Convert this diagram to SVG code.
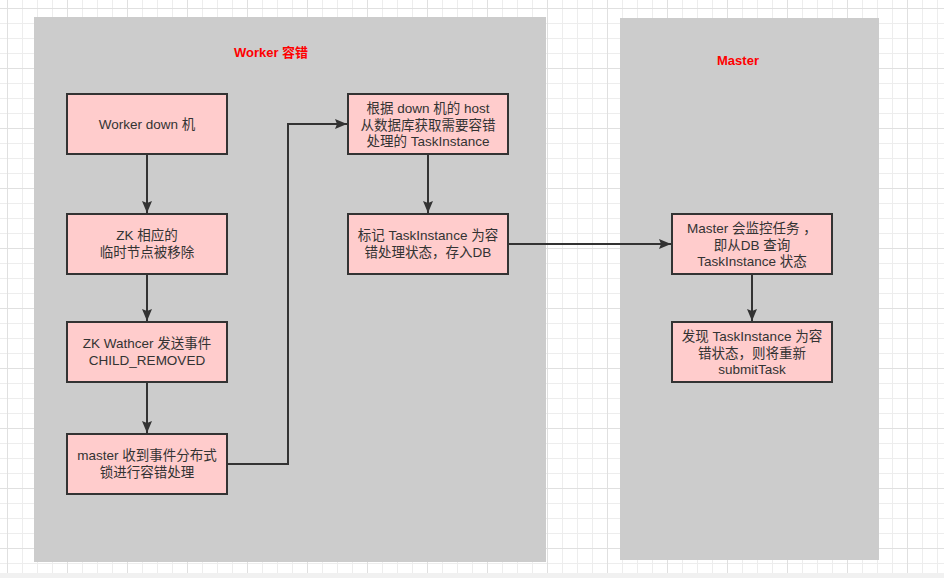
<svg xmlns="http://www.w3.org/2000/svg" width="944" height="578" viewBox="0 0 944 578">
<defs>
<pattern id="minor" patternUnits="userSpaceOnUse" x="7" y="8" width="15" height="15">
<path d="M0.5 0V15M0 0.5H15" stroke="#ededed" stroke-width="1" fill="none"/>
</pattern>
<pattern id="major" patternUnits="userSpaceOnUse" x="7" y="8" width="60" height="60">
<path d="M0.5 0V60M0 0.5H60" stroke="#e0e0e0" stroke-width="1" fill="none"/>
</pattern>
<marker id="arr" viewBox="0 0 12 10" refX="12" refY="5" markerWidth="12" markerHeight="10" markerUnits="userSpaceOnUse" orient="auto">
<path d="M0 0L12 5L0 10L2 5Z" fill="#333"/>
</marker>
<style>
.cont{fill:#cccccc;stroke:none}
.title{font-family:"Liberation Sans","Noto Sans CJK SC",sans-serif;font-size:13px;font-weight:bold;fill:#ff0000;text-anchor:middle}
.box{fill:#ffcccc;stroke:#333333;stroke-width:2}
.t{font-family:"Liberation Sans","Noto Sans CJK SC",sans-serif;font-size:13.5px;fill:#333333;text-anchor:middle}
.edge{fill:none;stroke:#333333;stroke-width:2;marker-end:url(#arr)}
</style>
</defs>
<rect width="944" height="578" fill="#ffffff"/>
<rect width="944" height="578" fill="url(#minor)"/>
<rect width="944" height="578" fill="url(#major)"/>
<rect x="0" y="573" width="944" height="5" fill="#f1f1f1"/>

<g id="worker-group">
<rect class="cont" x="34" y="17" width="512" height="545"/>
<text class="title" x="271" y="57">Worker 容错</text>
</g>
<g id="master-group">
<rect class="cont" x="620" y="18" width="259" height="542"/>
<text class="title" x="738" y="65">Master</text>
</g>

<g id="connectors">
<path class="edge" d="M147 154V213"/>
<path class="edge" d="M147 274V321"/>
<path class="edge" d="M147 382V433"/>
<path class="edge" d="M227 464H288V124H347"/>
<path class="edge" d="M428 154V213"/>
<path class="edge" d="M508 244H671"/>
<path class="edge" d="M752 274V321"/>
</g>

<g id="n1">
<rect class="box" x="67" y="94" width="160" height="60"/>
<text class="t" x="147" y="129">Worker down 机</text>
</g>
<g id="n2">
<rect class="box" x="67" y="214" width="160" height="60"/>
<text class="t" x="147" y="240">ZK 相应的</text>
<text class="t" x="147" y="257">临时节点被移除</text>
</g>
<g id="n3">
<rect class="box" x="67" y="322" width="160" height="60"/>
<text class="t" x="147" y="348">ZK Wathcer 发送事件</text>
<text class="t" x="147" y="365">CHILD_REMOVED</text>
</g>
<g id="n4">
<rect class="box" x="67" y="434" width="160" height="60"/>
<text class="t" x="147" y="460">master 收到事件分布式</text>
<text class="t" x="147" y="477">锁进行容错处理</text>
</g>
<g id="n5">
<rect class="box" x="348" y="94" width="160" height="60"/>
<text class="t" x="428" y="113">根据 down 机的 host</text>
<text class="t" x="428" y="130">从数据库获取需要容错</text>
<text class="t" x="428" y="146">处理的 TaskInstance</text>
</g>
<g id="n6">
<rect class="box" x="348" y="214" width="160" height="60"/>
<text class="t" x="428" y="240">标记 TaskInstance 为容</text>
<text class="t" x="428" y="257">错处理状态，存入DB</text>
</g>
<g id="n7">
<rect class="box" x="672" y="214" width="160" height="60"/>
<text class="t" x="752" y="233">Master 会监控任务 ，</text>
<text class="t" x="752" y="250">即从DB 查询</text>
<text class="t" x="752" y="266">TaskInstance 状态</text>
</g>
<g id="n8">
<rect class="box" x="672" y="322" width="160" height="60"/>
<text class="t" x="752" y="341">发现 TaskInstance 为容</text>
<text class="t" x="752" y="358">错状态，则将重新</text>
<text class="t" x="752" y="374">submitTask</text>
</g>
</svg>
